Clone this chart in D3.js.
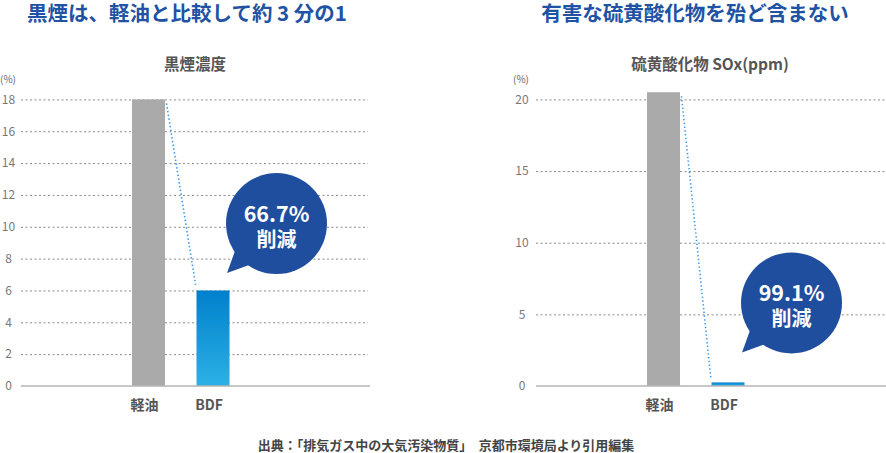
<!DOCTYPE html>
<html><head><meta charset="utf-8">
<script src="https://cdn.jsdelivr.net/npm/d3@7"></script>
<style>
html,body{margin:0;padding:0;background:#fff;}
svg{display:block;font-family:"Noto Sans CJK JP","Noto Sans",sans-serif;}
</style></head>
<body>
<svg id="chart" width="886" height="453"></svg>
<script>
const categories = ["軽油", "BDF"];
const smokeValues = [18, 6];
const soxValues = [20.5, 0.25];
const smokeTicks = [0, 2, 4, 6, 8, 10, 12, 14, 16, 18];
const soxTicks = [0, 5, 10, 15, 20];
const titles = ["黒煙は、軽油と比較して約 3 分の1", "有害な硫黄酸化物を殆ど含まない"];
const subtitles = ["黒煙濃度", "硫黄酸化物 SOx(ppm)"];
const reductions = ["66.7%", "99.1%"];
const reductionLabel = "削減";
const unitLabel = "(%)";
const footer = "出典：「排気ガス中の大気汚染物質」　京都市環境局より引用編集";

const svg = d3.select("#chart");
const defs = svg.append("defs");
const grad = defs.append("linearGradient").attr("id","bdfGrad").attr("x1",0).attr("y1",0).attr("x2",0).attr("y2",1);
grad.append("stop").attr("offset","0%").attr("stop-color","#0080cc");
grad.append("stop").attr("offset","100%").attr("stop-color","#2cb1e5");

function panel(cfg){
  const g = svg.append("g");
  const x = d3.scaleBand().domain(categories)
    .range([cfg.x0 + 79.5, cfg.x0 + 240]).paddingInner(0.488).paddingOuter(0.488);
  const y = d3.scaleLinear().domain(cfg.domain).range([386, 99.4]);

  g.append("text").attr("x", cfg.titleX).attr("y", 21).attr("text-anchor","middle")
    .attr("font-size", 20.5).attr("font-weight","bold").attr("fill","#2152a3").text(cfg.title);
  g.append("text").attr("x", cfg.subX).attr("y", 70).attr("text-anchor","middle")
    .attr("font-size", 15.5).attr("font-weight","bold").attr("fill","#555").text(cfg.sub);
  g.append("text").attr("x", cfg.unitX).attr("y", 83).attr("text-anchor","middle")
    .attr("font-size", 10).attr("fill","#666").text(unitLabel);

  const grid = d3.axisLeft(y).tickValues(cfg.ticks.filter(t=>t>0)).tickSize(-(cfg.x1 - cfg.x0)).tickFormat("");
  const gg = g.append("g").attr("transform",`translate(${cfg.x0},0)`).call(grid);
  gg.select(".domain").remove();
  gg.selectAll(".tick line").attr("stroke","#8a8a8a").attr("stroke-width",1).attr("stroke-dasharray","2,2.5");

  const ax = d3.axisLeft(y).tickValues(cfg.ticks).tickSize(0).tickFormat(d3.format("d"));
  const ag = g.append("g").attr("transform",`translate(${cfg.labelX},0)`).call(ax);
  ag.select(".domain").remove();
  ag.selectAll("text").attr("x",0).attr("text-anchor","middle").attr("font-size",12)
    .attr("fill","#777").attr("font-family","'Noto Sans CJK JP','Noto Sans',sans-serif");

  g.selectAll("rect.bar").data(cfg.values).enter().append("rect")
    .attr("x",(d,i)=>x(categories[i])).attr("width",x.bandwidth())
    .attr("y",d=>y(d)).attr("height",d=>y(0)-y(d))
    .attr("fill",(d,i)=> i===0 ? "#aaaaaa" : "url(#bdfGrad)");

  g.append("line").attr("x1",cfg.x0).attr("x2",cfg.x1+2).attr("y1",y(0)).attr("y2",y(0))
    .attr("stroke","#b5b5b5").attr("stroke-width",1.5);

  g.selectAll("text.xl").data(categories).enter().append("text")
    .attr("x",d=>x(d)+x.bandwidth()/2-4).attr("y",410).attr("text-anchor","middle")
    .attr("font-size",14).attr("font-weight","bold").attr("fill","#555").text(d=>d);

  g.append("line")
    .attr("x1", x(categories[0]) + x.bandwidth() + 1.5).attr("y1", y(cfg.values[0]) + 4)
    .attr("x2", x(categories[1]) - 0.5).attr("y2", y(cfg.values[1]) - 3)
    .attr("stroke","#3d9cf0").attr("stroke-width",1.6).attr("stroke-dasharray","1.4,2.4");

  const cx = x(categories[1]) + x.bandwidth()/2 + 63.5;
  const cy = y(cfg.bubbleAt);
  const r = 50.5;
  const bg = g.append("g").attr("transform",`translate(${cx},${cy})`);
  bg.append("path").attr("d","M-41,26 L-49.5,49.5 L-26,41 Z").attr("fill","#204e9e");
  bg.append("circle").attr("r",r).attr("fill","#204e9e");
  bg.append("text").attr("y",-1.5).attr("text-anchor","middle").attr("font-size",21.5)
    .attr("font-weight","bold").attr("fill","#fff").text(cfg.reduction);
  bg.append("text").attr("y",23.5).attr("text-anchor","middle").attr("font-size",20)
    .attr("font-weight","bold").attr("fill","#fff").text(reductionLabel);
}

panel({x0:21, x1:368, domain:[0,18], ticks:smokeTicks, values:smokeValues,
  title:titles[0], titleX:187, sub:subtitles[0], subX:195, unitX:8, labelX:8.5,
  reduction:reductions[0], bubbleAt:10.2});
panel({x0:536, x1:886, domain:[0,20], ticks:soxTicks, values:soxValues,
  title:titles[1], titleX:695, sub:subtitles[1], subX:710, unitX:521, labelX:522,
  reduction:reductions[1], bubbleAt:5.8});

svg.append("text").attr("x",446).attr("y",450).attr("text-anchor","middle")
  .attr("font-size",13).attr("font-weight","bold").attr("fill","#444").text(footer);
</script>
</body></html>
